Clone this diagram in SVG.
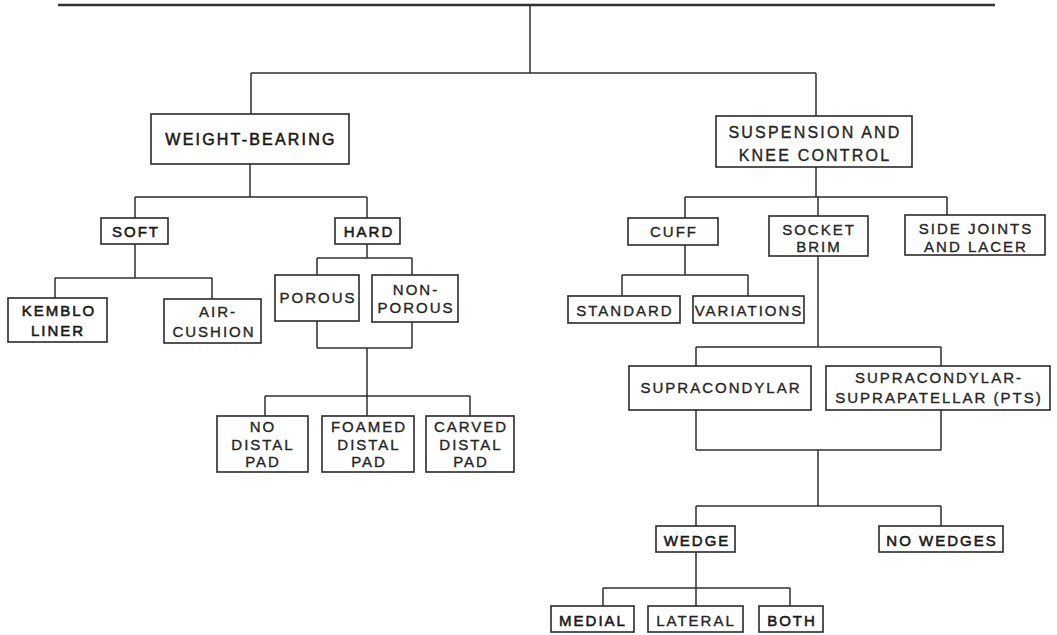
<svg xmlns="http://www.w3.org/2000/svg" width="1057" height="635" viewBox="0 0 1057 635">
<style>
.bg{fill:#ffffff}
.box{fill:#ffffff;stroke:#2a2a2a;stroke-width:1.6}
.ln{fill:none;stroke:#2f2f2f;stroke-width:1.5}
.top{fill:none;stroke:#333;stroke-width:2.6}
text{font-family:"Liberation Sans",Arial,sans-serif;font-size:15px;letter-spacing:2px;fill:#252525;stroke:#252525;stroke-width:0.35;text-anchor:middle}
.big{font-size:16px;letter-spacing:2.2px}
.dk{stroke-width:0.55;fill:#181818;stroke:#181818}
</style>
<rect class="bg" x="0" y="0" width="1057" height="635"/>
<g id="connectors">
<path class="top" d="M58,5 H995"/>
<path class="ln" d="M530,5 V73 M251,73 H816 M251,73 V114 M816,73 V116"/>
<path class="ln" d="M250,164 V197 M135,197 H367 M135,197 V218 M367,197 V218"/>
<path class="ln" d="M135,244 V278 M55,278 H212 M55,278 V298 M212,278 V299"/>
<path class="ln" d="M367,244 V258 M317,258 H412 M317,258 V275 M412,258 V275"/>
<path class="ln" d="M317,321 V348 M412,322 V348 M317,348 H412 M367,348 V396"/>
<path class="ln" d="M265,396 H470 M265,396 V416 M367,396 V416 M470,396 V416"/>
<path class="ln" d="M816,167 V197 M685,197 H947 M685,197 V218 M818,197 V218 M947,197 V215"/>
<path class="ln" d="M685,245 V275 M622,275 H748 M622,275 V296 M748,275 V296"/>
<path class="ln" d="M818,256 V347 M696,347 H941 M696,347 V366 M941,347 V366"/>
<path class="ln" d="M696,410 V450 M941,410 V450 M696,450 H941 M818,450 V506"/>
<path class="ln" d="M696,506 H941 M696,506 V526 M941,506 V526"/>
<path class="ln" d="M696,552 V588 M603,588 H790 M603,588 V606 M696,588 V606 M790,588 V606"/>
</g>
<g id="weight-bearing"><rect class="box" x="151" y="114" width="198" height="50"/><text class="big dk" x="251" y="145">WEIGHT-BEARING</text></g>
<g id="suspension"><rect class="box" x="716" y="116" width="196" height="51"/><text class="big" x="815" y="138">SUSPENSION  AND</text><text class="big" x="815" y="161">KNEE CONTROL</text></g>
<g id="soft"><rect class="box" x="101" y="218" width="67" height="26"/><text class="dk" x="136" y="237">SOFT</text></g>
<g id="hard"><rect class="box" x="335" y="218" width="65" height="26"/><text class="dk" x="369" y="237">HARD</text></g>
<g id="kemblo"><rect class="box" x="8" y="298" width="99" height="44"/><text class="dk" x="59" y="316">KEMBLO</text><text class="dk" x="58" y="336">LINER</text></g>
<g id="air-cushion"><rect class="box" x="164" y="299" width="97" height="44"/><text x="218" y="317">AIR-</text><text x="214" y="337">CUSHION</text></g>
<g id="porous"><rect class="box" x="275" y="275" width="84" height="46"/><text x="318" y="303">POROUS</text></g>
<g id="non-porous"><rect class="box" x="372" y="275" width="86" height="47"/><text x="416" y="295">NON-</text><text x="416" y="313">POROUS</text></g>
<g id="no-distal-pad"><rect class="box" x="217" y="416" width="91" height="56"/><text x="263" y="432">NO</text><text x="263" y="450">DISTAL</text><text x="263" y="467">PAD</text></g>
<g id="foamed-distal-pad"><rect class="box" x="322" y="416" width="92" height="56"/><text x="369" y="432">FOAMED</text><text x="369" y="450">DISTAL</text><text x="369" y="467">PAD</text></g>
<g id="carved-distal-pad"><rect class="box" x="426" y="416" width="88" height="56"/><text x="471" y="432">CARVED</text><text x="471" y="450">DISTAL</text><text x="471" y="467">PAD</text></g>
<g id="cuff"><rect class="box" x="628" y="218" width="90" height="27"/><text x="674" y="237">CUFF</text></g>
<g id="socket-brim"><rect class="box" x="769" y="216" width="99" height="40"/><text x="819" y="235">SOCKET</text><text x="819" y="252">BRIM</text></g>
<g id="side-joints"><rect class="box" x="905" y="215" width="140" height="40"/><text x="976" y="234">SIDE  JOINTS</text><text x="976" y="252">AND  LACER</text></g>
<g id="standard"><rect class="box" x="568" y="296" width="112" height="27"/><text x="625" y="316">STANDARD</text></g>
<g id="variations"><rect class="box" x="693" y="296" width="111" height="27"/><text x="749" y="316">VARIATIONS</text></g>
<g id="supracondylar"><rect class="box" x="629" y="366" width="182" height="44"/><text x="721" y="393">SUPRACONDYLAR</text></g>
<g id="supracondylar-pts"><rect class="box" x="826" y="366" width="224" height="44"/><text x="939" y="383">SUPRACONDYLAR-</text><text x="939" y="403">SUPRAPATELLAR (PTS)</text></g>
<g id="wedge"><rect class="box" x="656" y="526" width="79" height="26"/><text class="dk" x="697" y="546">WEDGE</text></g>
<g id="no-wedges"><rect class="box" x="879" y="526" width="124" height="26"/><text class="dk" x="942" y="546">NO WEDGES</text></g>
<g id="medial"><rect class="box" x="551" y="606" width="83" height="26"/><text class="dk" x="593" y="626">MEDIAL</text></g>
<g id="lateral"><rect class="box" x="648" y="606" width="95" height="26"/><text x="696" y="626">LATERAL</text></g>
<g id="both"><rect class="box" x="759" y="606" width="64" height="26"/><text class="dk" x="792" y="626">BOTH</text></g>
</svg>
